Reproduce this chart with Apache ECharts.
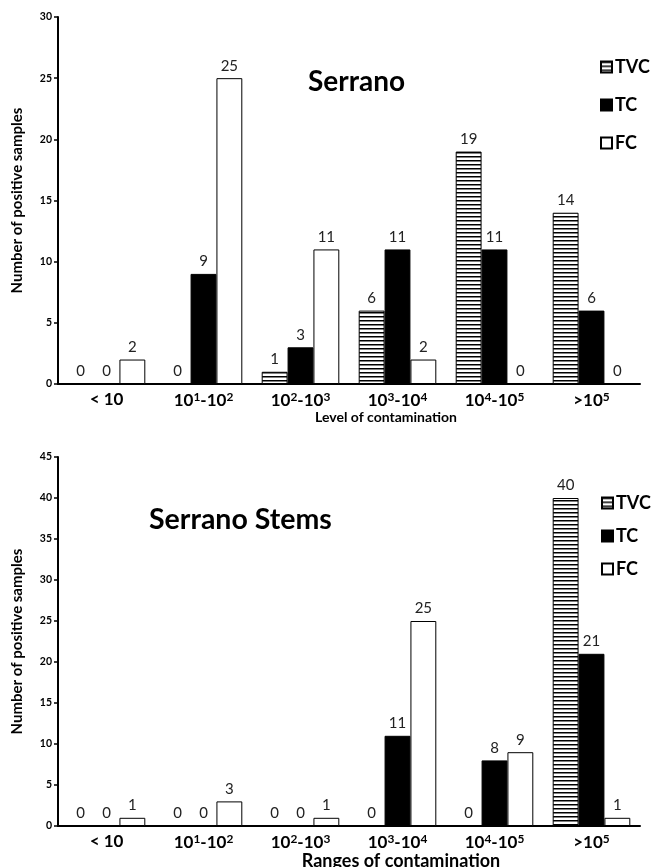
<!DOCTYPE html>
<html>
<head>
<meta charset="utf-8">
<script src="https://cdn.jsdelivr.net/npm/echarts@6/dist/echarts.min.js"></script>
<style>
  html, body { margin: 0; padding: 0; background: #fff; }
  #main { width: 657px; height: 867px; }
</style>
</head>
<body>
<div id="main"></div>
<script>
let categories = ['< 10', '10¹-10²', '10²-10³', '10³-10⁴', '10⁴-10⁵', '>10⁵'];

// Serrano
let tvcTop = [0, 0, 1, 6, 19, 14];
let tcTop = [0, 9, 3, 11, 11, 6];
let fcTop = [2, 25, 11, 2, 0, 0];

// Serrano Stems
let tvcBottom = [0, 0, 0, 0, 0, 40];
let tcBottom = [0, 0, 0, 11, 8, 21];
let fcBottom = [1, 3, 1, 25, 9, 1];

let fontName = 'Lato, "Open Sans", sans-serif';
let supMap = { '¹': '1', '²': '2', '³': '3', '⁴': '4', '⁵': '5' };

// horizontal stripe fill for TVC
let stripe = document.createElement('canvas');
stripe.width = 8;
stripe.height = 4;
let ctx = stripe.getContext('2d');
ctx.fillStyle = '#fff';
ctx.fillRect(0, 0, 8, 4);
ctx.fillStyle = '#000';
ctx.fillRect(0, 0, 8, 1.5);
let stripeFill = { image: stripe, repeat: 'repeat' };

let myChart = echarts.init(document.getElementById('main'));

function barSeries(name, data, idx, fill) {
    return {
        name: name,
        type: 'bar',
        xAxisIndex: idx,
        yAxisIndex: idx,
        data: data,
        barGap: '0%',
        barCategoryGap: '20%',
        itemStyle: {
            color: fill,
            borderColor: '#000',
            borderWidth: 1
        },
        label: {
            show: true,
            position: 'top',
            distance: 5,
            color: '#222',
            fontSize: 15,
            fontFamily: fontName
        },
        emphasis: { disabled: true }
    };
}

function makeXAxis(idx, name, nameSize, nameGap, nameShift, labelSize) {
    return {
        type: 'category',
        gridIndex: idx,
        data: categories,
        name: name,
        nameLocation: 'middle',
        nameGap: nameGap,
        nameTextStyle: {
            color: '#000', fontWeight: 'bold', fontSize: nameSize, fontFamily: fontName,
            padding: [0, 0, 0, nameShift * 2]
        },
        axisLine: { lineStyle: { color: '#000', width: 2 } },
        axisTick: { show: false },
        axisLabel: {
            interval: 0,
            color: '#000', fontWeight: 'bold', fontSize: labelSize, fontFamily: fontName, margin: 7,
            formatter: function (v) {
                return v.replace(/[¹²³⁴⁵]/g, function (m) { return '{s|' + supMap[m] + '}'; });
            },
            rich: {
                s: { fontSize: labelSize * 0.7, fontWeight: 'bold', color: '#000', fontFamily: fontName, padding: [0, 0, 8, 0] }
            }
        }
    };
}

function makeYAxis(idx, max) {
    return {
        type: 'value',
        gridIndex: idx,
        min: 0,
        max: max,
        interval: 5,
        name: 'Number of positive samples',
        nameLocation: 'middle',
        nameGap: 33,
        nameTextStyle: { color: '#000', fontWeight: 'bold', fontSize: 15, fontFamily: fontName },
        axisLine: { show: true, lineStyle: { color: '#000', width: 2 } },
        axisTick: { show: true, length: 4, lineStyle: { color: '#000', width: 1.5 } },
        axisLabel: { color: '#000', fontWeight: 'bold', fontSize: 10.5, fontFamily: fontName, margin: 6 },
        splitLine: { show: false }
    };
}

function makeLegend(left, top, gap) {
    return {
        orient: 'vertical',
        left: left,
        top: top,
        padding: 0,
        itemWidth: 11,
        itemHeight: 11,
        itemGap: gap,
        icon: 'rect',
        data: ['TVC', 'TC', 'FC'],
        textStyle: { color: '#000', fontWeight: 'bold', fontSize: 18, fontFamily: fontName, padding: [0, 0, 0, -2] }
    };
}

let option = {
    animation: false,
    backgroundColor: '#fff',
    title: [
        { text: 'Serrano', left: 308, top: 68, padding: 0, textStyle: { fontSize: 28, fontWeight: 'bold', color: '#000', fontFamily: fontName } },
        { text: 'Serrano Stems', left: 149, top: 505, padding: 0, textStyle: { fontSize: 28.5, fontWeight: 'bold', color: '#000', fontFamily: fontName } }
    ],
    legend: [makeLegend(600, 58, 20), makeLegend(601, 494, 15)],
    grid: [
        { left: 58, top: 17, width: 582, height: 367, outerBoundsMode: 'none' },
        { left: 58, top: 457, width: 582, height: 369, outerBoundsMode: 'none' }
    ],
    xAxis: [
        makeXAxis(0, 'Level of contamination', 14, 24, 37, 17),
        makeXAxis(1, 'Ranges of contamination', 18, 21, 52, 17)
    ],
    yAxis: [makeYAxis(0, 30), makeYAxis(1, 45)],
    series: [
        barSeries('TVC', tvcTop, 0, stripeFill),
        barSeries('TC', tcTop, 0, '#000'),
        barSeries('FC', fcTop, 0, '#fff'),
        barSeries('TVC', tvcBottom, 1, stripeFill),
        barSeries('TC', tcBottom, 1, '#000'),
        barSeries('FC', fcBottom, 1, '#fff')
    ]
};

myChart.setOption(option);
</script>
</body>
</html>
